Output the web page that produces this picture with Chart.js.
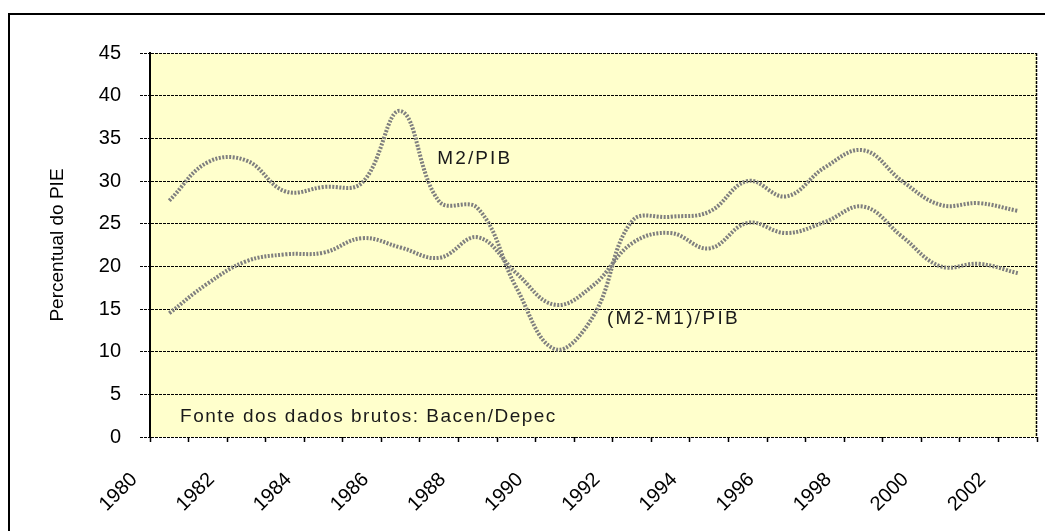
<!DOCTYPE html>
<html>
<head>
<meta charset="utf-8">
<script src="https://cdn.jsdelivr.net/npm/chart.js@4.4.1/dist/chart.umd.min.js"></script>
<style>
  html, body { margin: 0; padding: 0; background: #fff; }
</style>
</head>
<body>
<canvas id="moneyChart" width="1045" height="531"></canvas>
<script>
// Anos (categorias do eixo X)
const years = ['1980', '1981', '1982', '1983', '1984', '1985', '1986', '1987', '1988', '1989', '1990', '1991',
               '1992', '1993', '1994', '1995', '1996', '1997', '1998', '1999', '2000', '2001', '2002'];
// Anos que recebem rótulo no eixo
const labeledYears = ['1980', '1982', '1984', '1986', '1988', '1990', '1992', '1994', '1996', '1998', '2000', '2002'];

// Séries (% do PIB)
const m2Pib = [27.7, 32.2, 32.4, 28.8, 29.3, 29.8, 38.2, 27.6, 26.8, 17.5, 10.3, 14.2,
               25.3, 25.8, 26.4, 30.0, 28.2, 31.6, 33.6, 30.0, 27.2, 27.4, 26.5];
const m2m1Pib = [14.5, 18.0, 20.6, 21.4, 21.6, 23.3, 22.2, 21.0, 23.4, 19.2, 15.5, 17.8,
                 22.7, 23.9, 22.1, 25.1, 23.9, 25.2, 27.0, 23.5, 20.0, 20.3, 19.2];
const seriesNames = ['M2/PIB', '(M2-M1)/PIB'];

// Eixo Y
const yMin = 0;
const yMax = 45;
const yStep = 5;
const yTitle = 'Percentual do PIE';

// Textos dentro do gráfico
const noteTexts = ['M2/PIB', '(M2-M1)/PIB', 'Fonte dos dados brutos: Bacen/Depec'];
const noteAt = [[6.95, 32.6], [11.35, 13.8], [0.28, 2.35]]; // [índice do ano, valor]
const noteSpacing = ['2.1px', '2.3px', '1.5px'];

const fontFamily = "'Liberation Sans', Arial, sans-serif";
Chart.defaults.font.family = fontFamily;
Chart.defaults.color = '#000';

// moldura externa e fundo amarelo da área do gráfico
const framePlugin = {
    id: 'frame',
    beforeDraw(chart) {
        const { ctx, chartArea: a } = chart;
        ctx.save();
        ctx.fillStyle = '#fff';
        ctx.fillRect(0, 0, chart.width, chart.height);
        ctx.strokeStyle = '#000';
        ctx.lineWidth = 2;
        ctx.strokeRect(9, 14, chart.width + 20, chart.height + 20);
        ctx.fillStyle = '#FFFFCC';
        ctx.fillRect(a.left, a.top, a.right - a.left, a.bottom - a.top);
        ctx.restore();
    },
    beforeDatasetsDraw(chart) {
        const { ctx, chartArea: a } = chart;
        ctx.save();
        ctx.strokeStyle = '#000';
        ctx.lineWidth = 1.5;
        ctx.setLineDash([3, 1]);
        ctx.beginPath();
        ctx.moveTo(a.right - 0.5, a.top);
        ctx.lineTo(a.right - 0.5, a.bottom);
        ctx.stroke();
        ctx.restore();
    }
};

// rótulos das séries e fonte dos dados
const notesPlugin = {
    id: 'notes',
    afterDatasetsDraw(chart) {
        const { ctx, scales: { x, y } } = chart;
        ctx.save();
        ctx.fillStyle = '#1a1a1a';
        ctx.textAlign = 'left';
        ctx.textBaseline = 'middle';
        ctx.font = '19px ' + fontFamily;
        noteTexts.forEach((t, i) => {
            ctx.letterSpacing = noteSpacing[i];
            ctx.fillText(t, x.getPixelForValue(noteAt[i][0]), y.getPixelForValue(noteAt[i][1]));
        });
        ctx.restore();
    }
};

const ctx = document.getElementById('moneyChart').getContext('2d');
const moneyChart = new Chart(ctx, {
    type: 'line',
    data: {
        labels: years,
        datasets: [
            {
                label: seriesNames[0],
                data: m2Pib,
                borderColor: '#7f7f7f',
                borderWidth: 4,
                borderDash: [2, 1.5],
                pointRadius: 0,
                tension: 0.4,
                fill: false
            },
            {
                label: seriesNames[1],
                data: m2m1Pib,
                borderColor: '#7f7f7f',
                borderWidth: 4,
                borderDash: [2, 1.5],
                pointRadius: 0,
                tension: 0.4,
                fill: false
            }
        ]
    },
    options: {
        responsive: false,
        animation: false,
        devicePixelRatio: 1,
        layout: { padding: { top: 53, right: 8, bottom: 0, left: 0 } },
        plugins: {
            legend: { display: false },
            tooltip: { enabled: false }
        },
        scales: {
            x: {
                offset: true,
                grid: {
                    display: true,
                    drawOnChartArea: false,
                    offset: true,
                    tickLength: 5,
                    tickColor: '#000',
                    tickWidth: 1.5
                },
                border: { display: false },
                ticks: {
                    autoSkip: false,
                    maxRotation: 45,
                    minRotation: 45,
                    labelOffset: -35,
                    padding: 26,
                    font: { size: 20 },
                    callback: function (value, index) {
                        const yr = years[index];
                        return labeledYears.includes(yr) ? yr : '';
                    }
                },
                afterFit(scale) {
                    scale.height = 94;
                    scale.paddingLeft = 0;
                    scale.paddingRight = 0;
                }
            },
            y: {
                min: yMin,
                max: yMax,
                ticks: {
                    stepSize: yStep,
                    padding: 19,
                    font: { size: 20 }
                },
                grid: {
                    color: '#000',
                    lineWidth: 1,
                    tickLength: 10,
                    tickColor: '#000',
                    tickBorderDash: [3, 1]
                },
                border: { display: true, color: '#000', width: 2, dash: [3, 1] },
                title: {
                    display: true,
                    text: yTitle,
                    font: { size: 19 },
                    padding: { top: 46, bottom: 0 }
                },
                afterFit(scale) {
                    scale.width = 150;
                    scale.paddingTop = 0;
                    scale.paddingBottom = 0;
                }
            }
        }
    },
    plugins: [framePlugin, notesPlugin]
});
</script>
</body>
</html>
